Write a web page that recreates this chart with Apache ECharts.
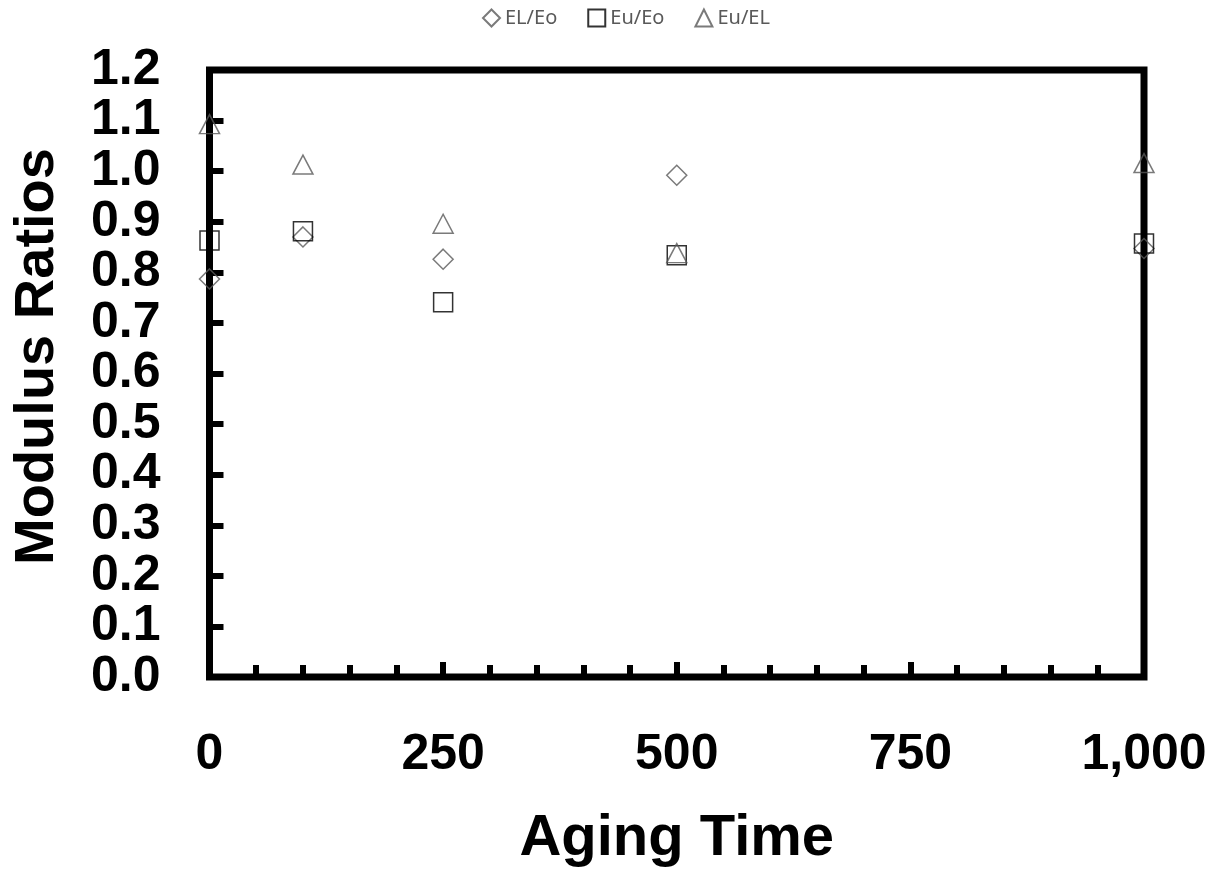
<!DOCTYPE html>
<html>
<head>
<meta charset="utf-8">
<script src="https://cdn.jsdelivr.net/npm/echarts@6/dist/echarts.min.js"></script>
<style>
html,body{margin:0;padding:0;background:#fff;}
#chart{width:1217px;height:873px;}
</style>
</head>
<body>
<div id="chart"></div>
<script>
var agingTimes = [0, 100, 250, 500, 1000];
var elEo = [0.787, 0.870, 0.826, 0.992, 0.847];
var euEo = [0.863, 0.881, 0.741, 0.834, 0.857];
var euEL = [1.093, 1.013, 0.896, 0.838, 1.016];
var seriesNames = ['EL/Eo', 'Eu/Eo', 'Eu/EL'];
var xTickLabels = {0: '0', 250: '250', 500: '500', 750: '750', 1000: '1,000'};

function pairs(ys) {
  return agingTimes.map(function (x, i) { return [x, ys[i]]; });
}

var chart = echarts.init(document.getElementById('chart'), null, {renderer: 'canvas'});
var FONT = 'Liberation Sans';
chart.setOption({
  animation: false,
  backgroundColor: '#fff',
  legend: {
    top: 3,
    left: 477,
    itemWidth: 17,
    itemHeight: 17,
    itemGap: 30,
    textStyle: {fontFamily: 'Noto Sans', fontSize: 20, color: '#595959'},
    data: seriesNames
  },
  grid: {
    left: 209.5, right: 73, top: 70, bottom: 196,
    show: true, borderColor: '#000', borderWidth: 7, backgroundColor: 'transparent'
  },
  xAxis: {
    type: 'value', min: 0, max: 1000, interval: 250,
    name: 'Aging Time', nameLocation: 'middle', nameGap: 133,
    nameTextStyle: {fontFamily: FONT, fontWeight: 'bold', fontSize: 58, color: '#000'},
    axisLine: {show: false},
    axisTick: {show: true, inside: true, length: 15, lineStyle: {color: '#000', width: 6}},
    minorTick: {show: true, splitNumber: 5, length: 12, lineStyle: {color: '#000', width: 6}},
    splitLine: {show: false},
    minorSplitLine: {show: false},
    axisLabel: {
      margin: 53, fontFamily: FONT, fontWeight: 'bold', fontSize: 50, color: '#000',
      formatter: function (v) { return xTickLabels[v] !== undefined ? xTickLabels[v] : ''; }
    }
  },
  yAxis: {
    type: 'value', min: 0, max: 1.2, interval: 0.1,
    name: 'Modulus Ratios', nameLocation: 'middle', nameGap: 144,
    nameTextStyle: {fontFamily: FONT, fontWeight: 'bold', fontSize: 56, color: '#000', padding: [0, 0, 0, 34]},
    axisLine: {show: false},
    axisTick: {show: true, inside: true, length: 14, lineStyle: {color: '#000', width: 6}},
    splitLine: {show: false},
    axisLabel: {
      margin: 49, fontFamily: FONT, fontWeight: 'bold', fontSize: 50, color: '#000',
      formatter: function (v) { return v.toFixed(1); }
    }
  },
  series: [
    {
      name: seriesNames[0], type: 'scatter', symbol: 'diamond', symbolSize: 20,
      itemStyle: {color: 'transparent', borderColor: '#595959', borderWidth: 1.5},
      data: pairs(elEo), z: 3
    },
    {
      name: seriesNames[1], type: 'scatter', symbol: 'rect', symbolSize: 19,
      itemStyle: {color: 'transparent', borderColor: '#000', borderWidth: 1.5},
      data: pairs(euEo), z: 3
    },
    {
      name: seriesNames[2], type: 'scatter', symbol: 'triangle', symbolSize: [20, 19],
      itemStyle: {color: 'transparent', borderColor: '#595959', borderWidth: 1.5},
      data: pairs(euEL), z: 3
    }
  ]
});
</script>
</body>
</html>
